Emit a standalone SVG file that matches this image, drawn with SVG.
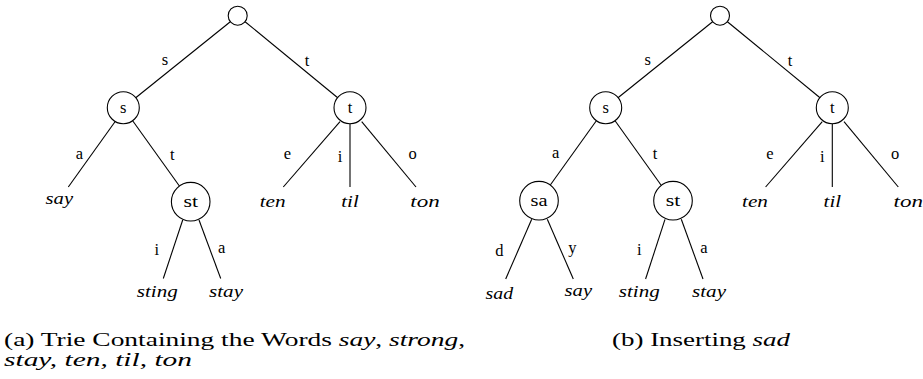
<svg xmlns="http://www.w3.org/2000/svg" width="923" height="379" viewBox="0 0 923 379" font-family="'Liberation Serif', 'Times New Roman', serif">
<style>
.n{fill:#fff;stroke:#000;stroke-width:1.1}
.e line{stroke:#000;stroke-width:1.1}
text{fill:#000}
.l{font-size:16.5px;text-anchor:middle}
.w{font-size:17px;font-style:italic;text-anchor:middle}
.c{font-size:19px}
.i{font-style:italic}
</style>
<rect width="923" height="379" fill="#fff"/>
<g id="connectors" class="e">
<line x1="230.3" y1="21.7" x2="135.4" y2="98"/>
<line x1="245.1" y1="21.7" x2="338" y2="98"/>
<line x1="115" y1="121.7" x2="68.3" y2="187"/>
<line x1="132.3" y1="120.3" x2="179.4" y2="186"/>
<line x1="340" y1="121.7" x2="283.3" y2="187"/>
<line x1="350" y1="123.2" x2="350" y2="187"/>
<line x1="361.7" y1="121.7" x2="416" y2="187"/>
<line x1="182.7" y1="220" x2="163.3" y2="278.5"/>
<line x1="199" y1="220" x2="220.7" y2="278.5"/>
<line x1="712.6" y1="21.7" x2="617.7" y2="98"/>
<line x1="727.4" y1="21.7" x2="820.3" y2="98"/>
<line x1="596.7" y1="120.3" x2="550.3" y2="185"/>
<line x1="614.7" y1="120.3" x2="661" y2="185"/>
<line x1="822.3" y1="121.7" x2="765.6" y2="187"/>
<line x1="832.3" y1="123.2" x2="832.3" y2="187"/>
<line x1="844" y1="121.7" x2="898.3" y2="187"/>
<line x1="531.7" y1="219.3" x2="505.7" y2="279"/>
<line x1="547.3" y1="219.3" x2="573.3" y2="279"/>
<line x1="665" y1="219.3" x2="645.6" y2="279"/>
<line x1="681.3" y1="219.3" x2="703" y2="279"/>
</g>
<g id="edge-labels">
<text class="l" x="165" y="64.5">s</text>
<text class="l" x="307" y="65.5">t</text>
<text class="l" x="79.3" y="158.5">a</text>
<text class="l" x="172.3" y="159.5">t</text>
<text class="l" x="287.3" y="158.5">e</text>
<text class="l" x="340" y="161.5">i</text>
<text class="l" x="412.7" y="158.5">o</text>
<text class="l" x="156.7" y="254.5">i</text>
<text class="l" x="221.7" y="253">a</text>
<text class="l" x="647.7" y="64.5">s</text>
<text class="l" x="790" y="65.5">t</text>
<text class="l" x="555.7" y="158">a</text>
<text class="l" x="655" y="159">t</text>
<text class="l" x="770" y="158.5">e</text>
<text class="l" x="822.3" y="161.5">i</text>
<text class="l" x="895" y="158.5">o</text>
<text class="l" x="499.3" y="256">d</text>
<text class="l" x="572.3" y="252.5">y</text>
<text class="l" x="639.3" y="254.5">i</text>
<text class="l" x="704" y="253">a</text>
</g>
<g id="a-root"><circle class="n" cx="237.7" cy="15.7" r="9.5"/></g>
<g id="a-s"><circle class="n" cx="123.3" cy="107.7" r="16"/><text class="l" x="123.3" y="112.5">s</text></g>
<g id="a-t"><circle class="n" cx="350" cy="107.7" r="16"/><text class="l" x="350" y="113">t</text></g>
<g id="a-st"><circle class="n" cx="190.7" cy="201.7" r="19.3"/><text class="l" x="190.7" y="206.5" textLength="14.5" lengthAdjust="spacingAndGlyphs">st</text></g>
<g id="a-say"><text class="w" x="59.3" y="203.5" textLength="27.5" lengthAdjust="spacingAndGlyphs">say</text></g>
<g id="a-ten"><text class="w" x="272.7" y="206.5" textLength="26" lengthAdjust="spacingAndGlyphs">ten</text></g>
<g id="a-til"><text class="w" x="350" y="206.5" textLength="17.5" lengthAdjust="spacingAndGlyphs">til</text></g>
<g id="a-ton"><text class="w" x="425" y="206.5" textLength="29.5" lengthAdjust="spacingAndGlyphs">ton</text></g>
<g id="a-sting"><text class="w" x="157.3" y="297" textLength="41" lengthAdjust="spacingAndGlyphs">sting</text></g>
<g id="a-stay"><text class="w" x="226" y="297" textLength="34" lengthAdjust="spacingAndGlyphs">stay</text></g>
<g id="b-root"><circle class="n" cx="720" cy="15.7" r="9.5"/></g>
<g id="b-s"><circle class="n" cx="605.7" cy="107.7" r="16"/><text class="l" x="605.7" y="112.5">s</text></g>
<g id="b-t"><circle class="n" cx="832.3" cy="107.7" r="16"/><text class="l" x="832.3" y="113">t</text></g>
<g id="b-sa"><circle class="n" cx="539" cy="200.7" r="19.3"/><text class="l" x="539" y="205.5" textLength="17" lengthAdjust="spacingAndGlyphs">sa</text></g>
<g id="b-st"><circle class="n" cx="673" cy="200.7" r="19.3"/><text class="l" x="673" y="205.5" textLength="14.5" lengthAdjust="spacingAndGlyphs">st</text></g>
<g id="b-sad"><text class="w" x="499.3" y="298.5" textLength="27.5" lengthAdjust="spacingAndGlyphs">sad</text></g>
<g id="b-say"><text class="w" x="578.3" y="295.5" textLength="27.5" lengthAdjust="spacingAndGlyphs">say</text></g>
<g id="b-sting"><text class="w" x="639.3" y="297" textLength="41" lengthAdjust="spacingAndGlyphs">sting</text></g>
<g id="b-stay"><text class="w" x="709" y="297" textLength="34" lengthAdjust="spacingAndGlyphs">stay</text></g>
<g id="b-ten"><text class="w" x="755" y="206.5" textLength="26" lengthAdjust="spacingAndGlyphs">ten</text></g>
<g id="b-til"><text class="w" x="832.3" y="206.5" textLength="17.5" lengthAdjust="spacingAndGlyphs">til</text></g>
<g id="b-ton"><text class="w" x="908.3" y="206.5" textLength="29.5" lengthAdjust="spacingAndGlyphs">ton</text></g>
<g id="captions">
<text class="c" x="4" y="345.5" textLength="461" lengthAdjust="spacingAndGlyphs">(a) Trie Containing the Words <tspan class="i">say</tspan>, <tspan class="i">strong</tspan>,</text>
<text class="c i" x="4" y="365.5" textLength="188" lengthAdjust="spacingAndGlyphs">stay, ten, til, ton</text>
<text class="c" x="612" y="345.5" textLength="178" lengthAdjust="spacingAndGlyphs">(b) Inserting <tspan class="i">sad</tspan></text>
</g>
</svg>
